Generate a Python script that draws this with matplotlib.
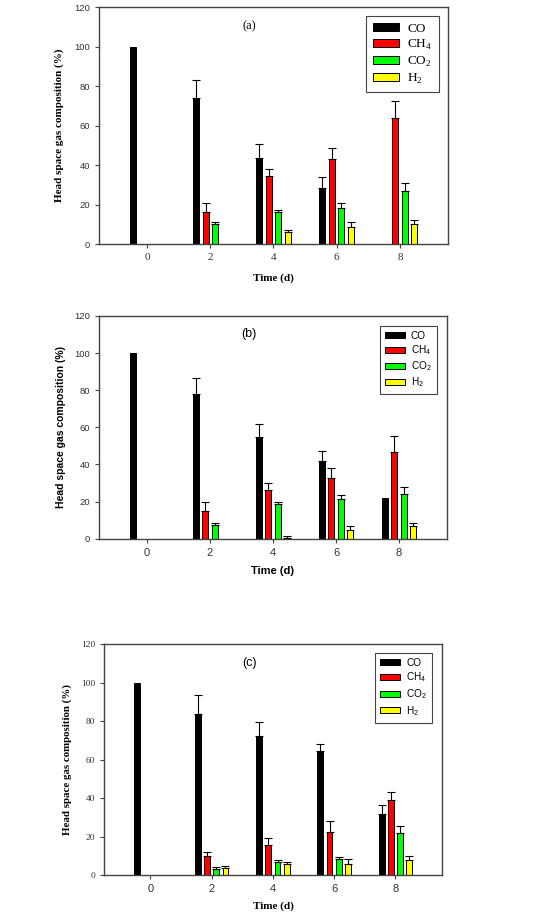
import numpy as np
import matplotlib
matplotlib.use('agg')
import matplotlib.pyplot as plt

# 数据：三组实验的顶空气体组成 (%)
days = [0, 2, 4, 6, 8]
gases = ['CO', r'CH$_\mathregular{4}$', r'CO$_\mathregular{2}$', r'H$_\mathregular{2}$']
colors = ['#000000', '#ff0000', '#00ff00', '#ffff00']

a_co = [100, 74.1, 43.7, 28.4, 0]
a_ch4 = [0, 16.0, 34.3, 42.9, 64.0]
a_co2 = [0, 10.1, 16.2, 18.4, 27.0]
a_h2 = [0, 0, 6.2, 8.8, 10.1]
a_co_err = [0, 8.9, 6.9, 5.5, 0]
a_ch4_err = [0, 4.9, 3.7, 5.9, 8.6]
a_co2_err = [0, 1.0, 1.0, 2.5, 3.9]
a_h2_err = [0, 0, 1.1, 2.3, 1.9]

b_co = [100, 77.8, 55.0, 41.7, 21.9]
b_ch4 = [0, 14.7, 26.0, 32.5, 46.5]
b_co2 = [0, 7.4, 18.9, 21.2, 24.1]
b_h2 = [0, 0, 0.2, 4.7, 6.6]
b_co_err = [0, 9.0, 7.0, 5.5, 0]
b_ch4_err = [0, 4.9, 3.8, 5.8, 8.8]
b_co2_err = [0, 0.9, 1.0, 2.3, 3.7]
b_h2_err = [0, 0, 1.1, 1.9, 2.0]

c_co = [100, 83.8, 72.2, 64.3, 31.8]
c_ch4 = [0, 9.9, 15.8, 22.3, 39.1]
c_co2 = [0, 3.1, 6.8, 8.2, 21.7]
c_h2 = [0, 3.8, 5.6, 5.9, 7.7]
c_co_err = [0, 9.8, 7.3, 3.7, 4.7]
c_ch4_err = [0, 2.3, 3.2, 5.7, 4.2]
c_co2_err = [0, 1.1, 1.0, 1.0, 3.7]
c_h2_err = [0, 0.9, 1.2, 2.3, 2.4]

SERIF = 'Liberation Serif'
SANS = 'Liberation Sans'

fig = plt.figure(figsize=(5.5, 9.13), dpi=100)


def draw_panel(rect, vals, errs, tag, ytick_font, xtick_font, tag_font,
               legend_font, legend_size, label_font, ylabel_size,
               ylabel_pad, xlabel_pad, leg_spacing, leg_anchor):
    ax = fig.add_axes(rect)
    x = np.array(days, dtype=float)
    offsets = [-0.45, -0.15, 0.15, 0.45]
    for v, e, off, col, name in zip(vals, errs, offsets, colors, gases):
        ax.bar(x + off, v, width=0.19, color=col, edgecolor='black',
               linewidth=0.7, label=name, zorder=2)
        e = np.array(e)
        mask = e > 0
        ax.errorbar((x + off)[mask], np.array(v)[mask],
                    yerr=[np.zeros(mask.sum()), e[mask]], fmt='none',
                    ecolor='black', elinewidth=0.8, capsize=2.8,
                    capthick=0.8, zorder=3)
    ax.set_xlim(-1.52, 9.52)
    ax.set_ylim(0, 120)
    ax.set_xticks(days)
    ax.set_yticks(range(0, 121, 20))
    for sp in ax.spines.values():
        sp.set_color('#444444')
        sp.set_linewidth(1.0)
    ax.tick_params(axis='both', direction='out', length=3, width=0.8,
                   color='#444444', labelsize=6.8, labelcolor='#333333')
    for t in ax.get_yticklabels():
        t.set_fontfamily(ytick_font)
    for t in ax.get_xticklabels():
        t.set_fontfamily(xtick_font)
        t.set_fontsize(8)
    ax.text(0.43, 0.92, tag, transform=ax.transAxes, ha='center', va='center',
            fontsize=9, family=tag_font)
    ax.set_xlabel('Time (d)', fontsize=8, fontweight='bold', family=label_font,
                  labelpad=xlabel_pad)
    ax.set_ylabel('Head space gas composition (%)', fontsize=ylabel_size,
                  fontweight='bold', family=label_font, labelpad=ylabel_pad)
    leg = ax.legend(loc='upper right', bbox_to_anchor=leg_anchor,
                    prop={'family': legend_font, 'size': legend_size},
                    fancybox=False, framealpha=1, edgecolor='#444444',
                    handlelength=2.0, handleheight=0.55,
                    labelspacing=leg_spacing,
                    borderpad=0.5, handletextpad=0.6, borderaxespad=0)
    leg.get_frame().set_linewidth(0.8)
    return ax


draw_panel([0.18, 0.7327, 0.6345, 0.2596],
           [a_co, a_ch4, a_co2, a_h2], [a_co_err, a_ch4_err, a_co2_err, a_h2_err],
           '(a)', SANS, SERIF, SERIF, SERIF, 9.5, SERIF, 8, 7, 8, 0.22,
           (0.974, 0.962))
draw_panel([0.18, 0.41, 0.6327, 0.2439],
           [b_co, b_ch4, b_co2, b_h2], [b_co_err, b_ch4_err, b_co2_err, b_h2_err],
           '(b)', SANS, SANS, SANS, SANS, 7.2, SANS, 7.5, 6, 6, 0.22,
           (0.97, 0.955))
draw_panel([0.189, 0.0416, 0.6145, 0.253],
           [c_co, c_ch4, c_co2, c_h2], [c_co_err, c_ch4_err, c_co2_err, c_h2_err],
           '(c)', SERIF, SANS, SANS, SANS, 7.2, SERIF, 7.8, 6, 5, 0.28,
           (0.97, 0.962))

fig.savefig('out.png', dpi=100)
